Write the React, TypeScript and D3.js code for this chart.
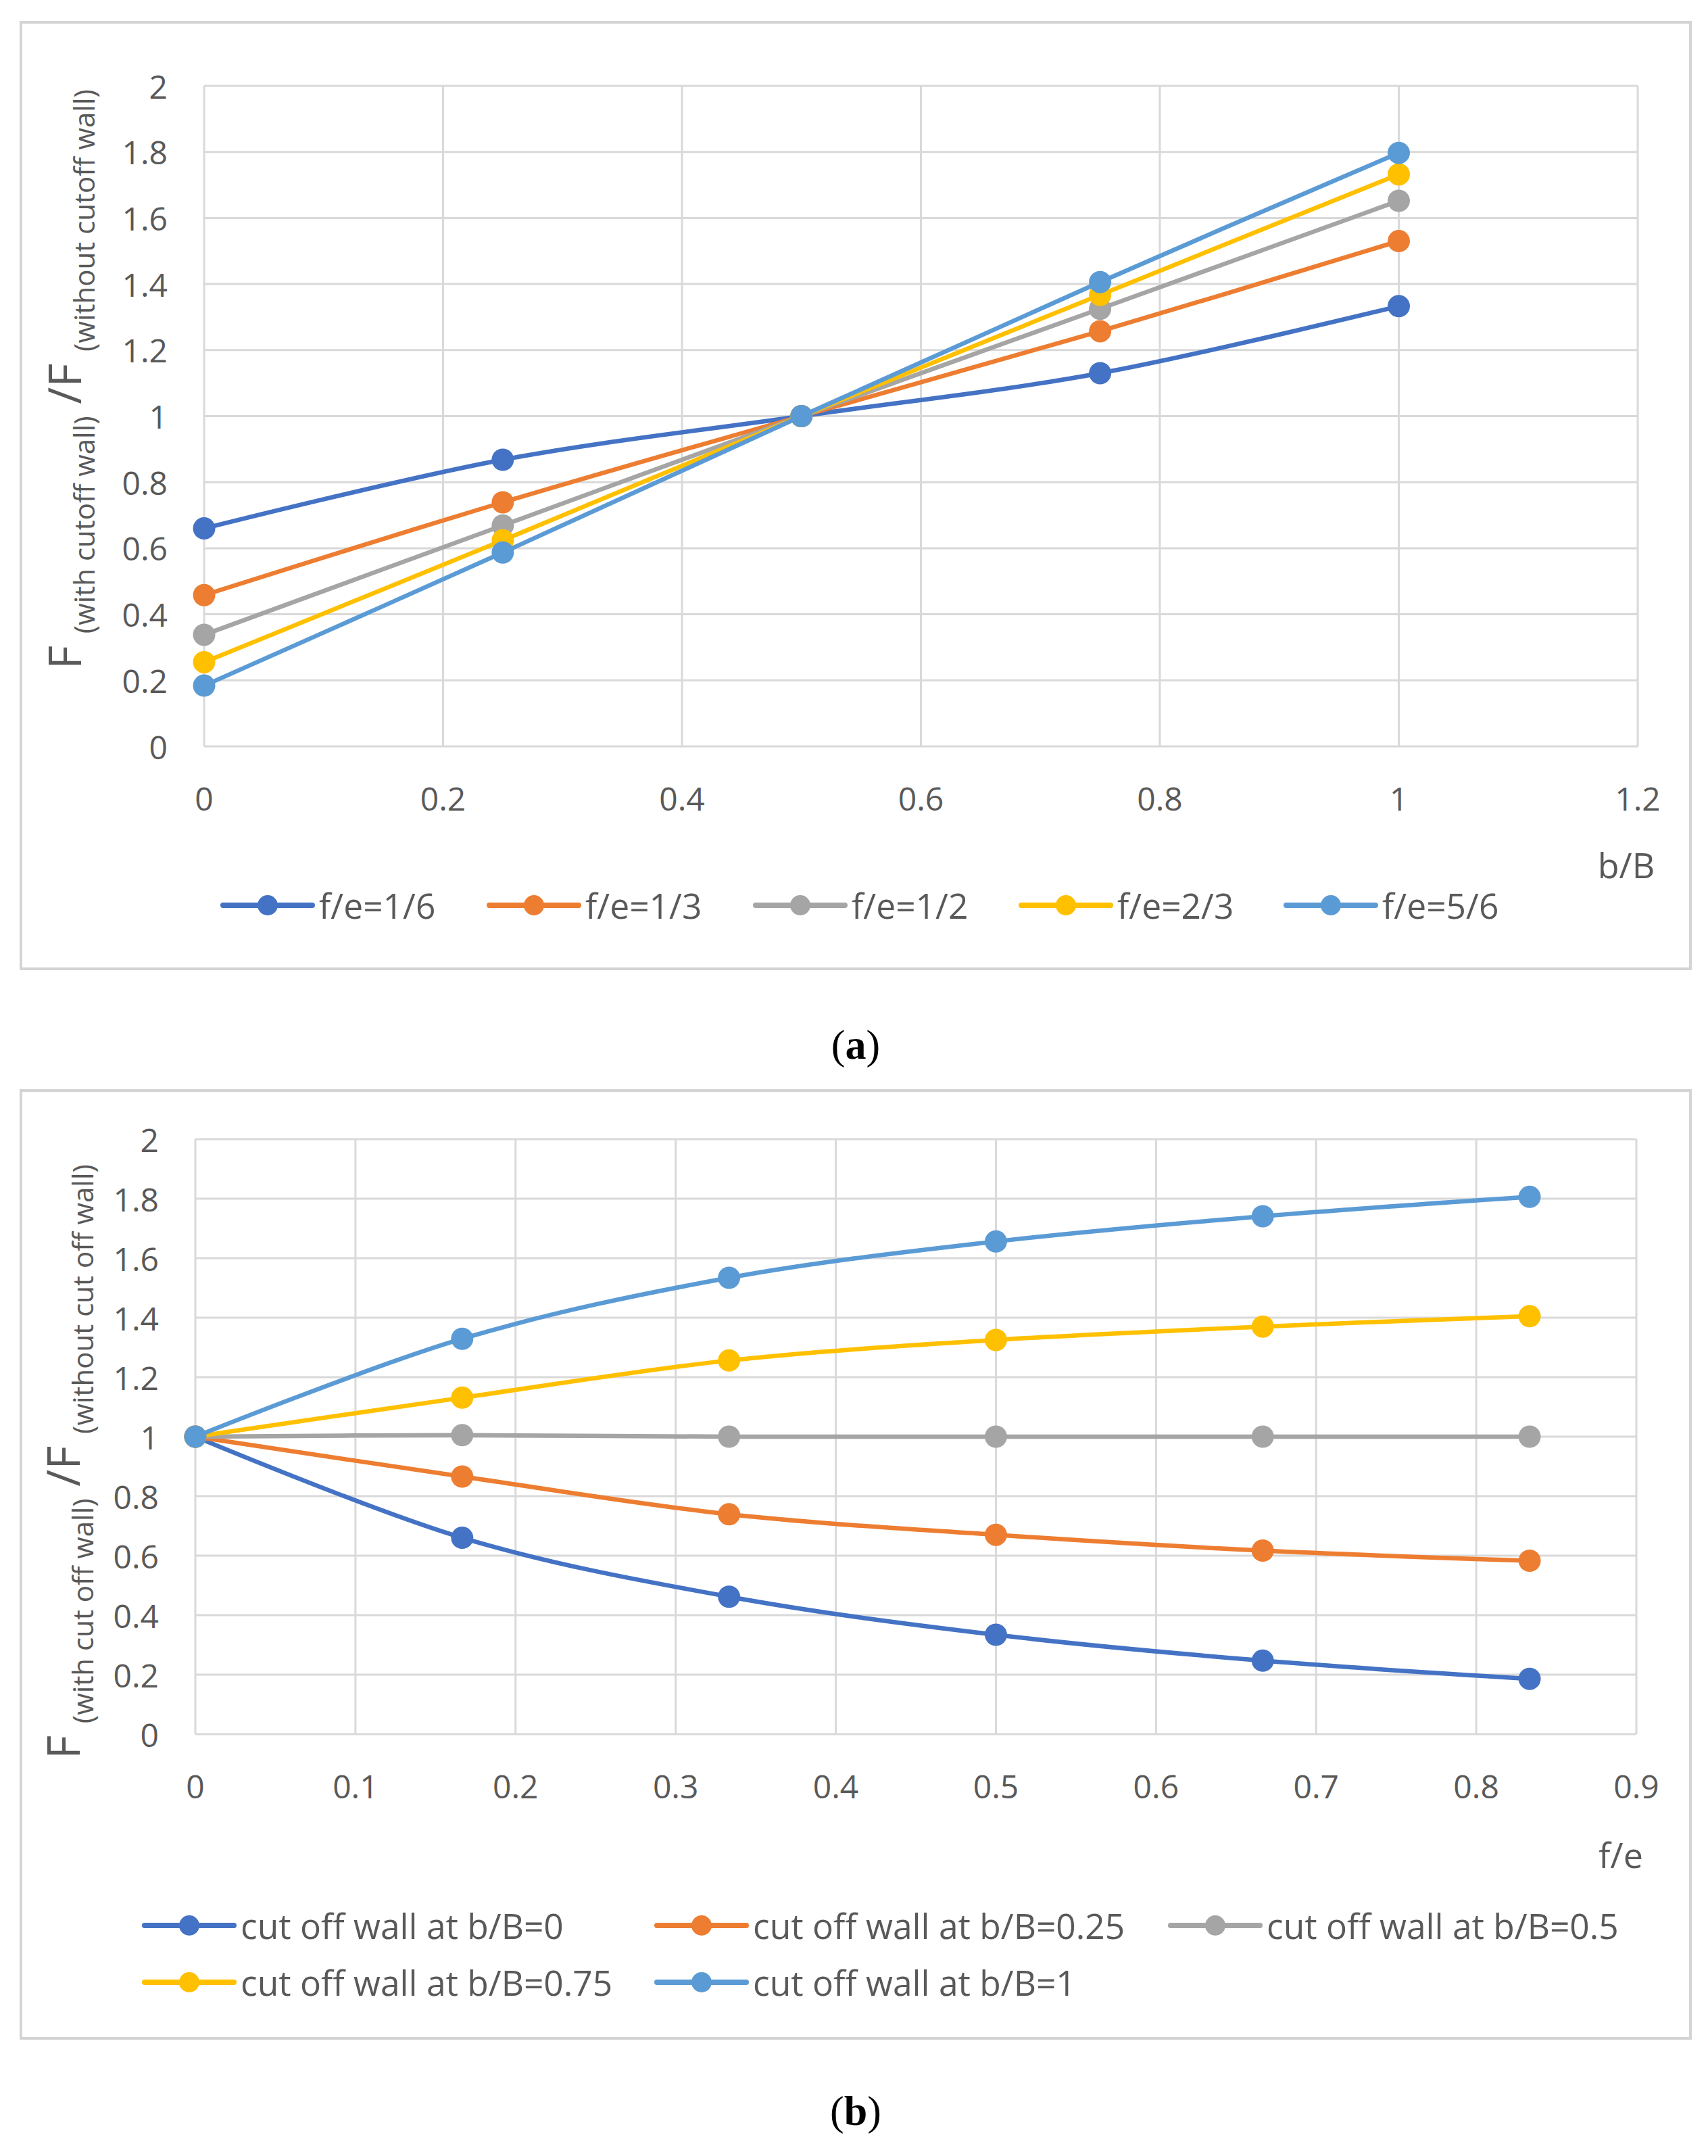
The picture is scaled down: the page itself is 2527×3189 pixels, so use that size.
import React from 'react'
import * as d3 from 'd3'

// chart (a): x = b/B, one series per f/e
const bBx = [0, 0.25, 0.5, 0.75, 1]
const feLabels = ['f/e=1/6', 'f/e=1/3', 'f/e=1/2', 'f/e=2/3', 'f/e=5/6']
const fe16 = [0.66, 0.868, 1, 1.13, 1.333]
const fe13 = [0.458, 0.739, 1, 1.257, 1.53]
const fe12 = [0.338, 0.669, 1, 1.325, 1.652]
const fe23 = [0.255, 0.624, 1, 1.367, 1.732]
const fe56 = [0.184, 0.587, 1, 1.406, 1.797]
const xTicksA = ['0', '0.2', '0.4', '0.6', '0.8', '1', '1.2']

// chart (b): x = f/e, one series per cut off wall position
const feX = [0, 1 / 6, 1 / 3, 0.5, 2 / 3, 5 / 6]
const cwLabels = [
  'cut off wall at b/B=0',
  'cut off wall at b/B=0.25',
  'cut off wall at b/B=0.5',
  'cut off wall at b/B=0.75',
  'cut off wall at b/B=1',
]
const cw0 = [1, 0.66, 0.462, 0.334, 0.247, 0.186]
const cw025 = [1, 0.866, 0.739, 0.67, 0.617, 0.583]
const cw05 = [1, 1.005, 1, 1, 1, 1]
const cw075 = [1, 1.131, 1.256, 1.325, 1.37, 1.405]
const cw1 = [1, 1.329, 1.534, 1.656, 1.741, 1.806]
const xTicksB = ['0', '0.1', '0.2', '0.3', '0.4', '0.5', '0.6', '0.7', '0.8', '0.9']

const yTicks = ['0', '0.2', '0.4', '0.6', '0.8', '1', '1.2', '1.4', '1.6', '1.8', '2']
const colors = ['#4472C4', '#ED7D31', '#A5A5A5', '#FFC000', '#5B9BD5']

const FONT = "'Open Sans', 'Noto Sans', sans-serif"
const TXT = '#595959'
const GRID = '#D9D9D9'

function Panel(props: any) {
  const { frame, plot, xTicks, xs, series, labels, legend, xTitle, yTitle, caption } = props
  const x = d3.scaleLinear().domain([0, +xTicks[xTicks.length - 1]]).range([plot.left, plot.right])
  const y = d3.scaleLinear().domain([0, 2]).range([plot.bottom, plot.top])
  const line = d3.line<number>()
    .x((_, i) => x(xs[i]))
    .y(d => y(d))
    .curve(d3.curveCardinal.tension(0))

  return (
    <g>
      <rect x={frame.x} y={frame.y} width={frame.w} height={frame.h} fill="#fff" stroke="#D4D4D4" strokeWidth={4} />
      {/* grid */}
      {yTicks.map(t => (
        <line key={'gy' + t} x1={plot.left} x2={plot.right} y1={y(+t)} y2={y(+t)} stroke={GRID} strokeWidth={3} />
      ))}
      {xTicks.map((t: string) => (
        <line key={'gx' + t} x1={x(+t)} x2={x(+t)} y1={plot.top} y2={plot.bottom} stroke={GRID} strokeWidth={3} />
      ))}
      {/* tick labels */}
      {yTicks.map(t => (
        <text key={'ly' + t} x={plot.left - 54} y={y(+t)} textAnchor="end" dominantBaseline="central"
          fontFamily={FONT} fontSize={48} fill={TXT}>{t}</text>
      ))}
      {xTicks.map((t: string) => (
        <text key={'lx' + t} x={x(+t)} y={plot.bottom + 76} textAnchor="middle" dominantBaseline="central"
          fontFamily={FONT} fontSize={48} fill={TXT}>{t}</text>
      ))}
      {/* series */}
      {series.map((s: number[], i: number) => (
        <g key={'s' + i}>
          <path d={line(s) || ''} fill="none" stroke={colors[i]} strokeWidth={6.5} strokeLinejoin="round" />
          {s.map((v, j) => (
            <circle key={j} cx={x(xs[j])} cy={y(v)} r={16.5} fill={colors[i]} />
          ))}
        </g>
      ))}
      {/* axis titles */}
      <text x={xTitle.x} y={xTitle.y} textAnchor="middle" dominantBaseline="central"
        fontFamily={FONT} fontSize={52} fill={TXT}>{xTitle.text}</text>
      <text transform={`translate(${yTitle.x},${yTitle.y}) rotate(-90)`} textAnchor="middle"
        fontFamily={FONT} fill={TXT}>
        <tspan fontSize={68}>F </tspan>
        <tspan fontSize={42} dy={20}>{yTitle.sub1}</tspan>
        <tspan fontSize={68} dy={-20}> /F </tspan>
        <tspan fontSize={42} dy={20}>{yTitle.sub2}</tspan>
      </text>
      {/* legend */}
      {labels.map((lab: string, i: number) => (
        <g key={'lg' + i} transform={`translate(${legend[i][0]},${legend[i][1]})`}>
          <line x1={0} x2={132} y1={0} y2={0} stroke={colors[i]} strokeWidth={8} strokeLinecap="round" />
          <circle cx={66} cy={0} r={15} fill={colors[i]} />
          <text x={142} y={0} dominantBaseline="central" fontFamily={FONT} fontSize={51.5} fill={TXT}>{lab}</text>
        </g>
      ))}
      <text x={caption.x} y={caption.y} textAnchor="middle" dominantBaseline="central"
        fontFamily="'Liberation Serif', 'Times New Roman', serif" fontSize={62} fill="#000">
        (<tspan fontWeight="bold">{caption.text}</tspan>)
      </text>
    </g>
  )
}

export default function App() {
  return (
    <svg width={2527} height={3189} style={{ position: 'absolute', left: 0, top: 0, background: '#fff' }}>
      <rect width={2527} height={3189} fill="#fff" />
      <Panel
        frame={{ x: 31, y: 33, w: 2470, h: 1400 }}
        plot={{ left: 302, right: 2423, top: 127, bottom: 1104 }}
        xTicks={xTicksA}
        xs={bBx}
        series={[fe16, fe13, fe12, fe23, fe56]}
        labels={feLabels}
        legend={[[330, 1339], [724, 1339], [1118, 1339], [1511, 1339], [1903, 1339]]}
        xTitle={{ text: 'b/B', x: 2406, y: 1278 }}
        yTitle={{ x: 120, y: 561, sub1: '(with cutoff wall)', sub2: '(without cutoff wall)' }}
        caption={{ text: 'a', x: 1266, y: 1545 }}
      />
      <Panel
        frame={{ x: 31, y: 1613, w: 2470, h: 1402 }}
        plot={{ left: 289, right: 2421, top: 1685, bottom: 2565 }}
        xTicks={xTicksB}
        xs={feX}
        series={[cw0, cw025, cw05, cw075, cw1]}
        labels={cwLabels}
        legend={[[214, 2848], [972, 2848], [1732, 2848], [214, 2932], [972, 2932]]}
        xTitle={{ text: 'f/e', x: 2398, y: 2742 }}
        yTitle={{ x: 118, y: 2162, sub1: '(with cut off wall)', sub2: '(without cut off wall)' }}
        caption={{ text: 'b', x: 1266, y: 3122 }}
      />
    </svg>
  )
}
